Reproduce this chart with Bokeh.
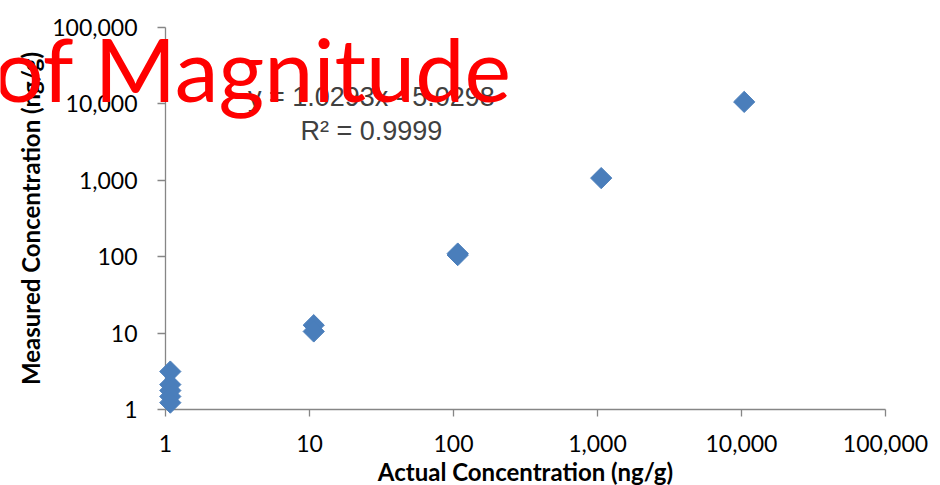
import numpy as np
from bokeh.plotting import figure
from bokeh.models import Range1d, FixedTicker, NumeralTickFormatter, Label
from bokeh.embed import file_html
from bokeh.resources import INLINE

# Data
actual = [1.08, 1.08, 1.08, 1.08, 1.08, 10.7, 10.7, 107, 107, 1061, 10440]
measured = [3.14, 2.12, 1.77, 1.48, 1.23, 12.7, 10.5, 110, 105, 1069, 10620]
ticks = [1, 10, 100, 1000, 10000, 100000]
x_label = "Actual Concentration (ng/g)"
y_label = "Measured Concentration (ng/g)"
eq_text = "y = 1.0293x - 5.0298"
r2_text = "R² = 0.9999"
title_text = "of Magnitude"

# Layout (pixels): the frame covers the whole canvas; the axes are pinned
# at value 1 so that the plot area spans x 165..885 and y 27..409.
W, H = 940, 485
X0_PX, X_DEC = 165, 144.0      # pixel of x=1, pixels per decade
Y0_PX, Y_DEC = 409, 76.4       # pixel (from top) of y=1, pixels per decade
x_range = Range1d(10 ** (-X0_PX / X_DEC), 10 ** ((W - X0_PX) / X_DEC))
y_range = Range1d(10 ** (-(H - Y0_PX) / Y_DEC), 10 ** (Y0_PX / Y_DEC))

p = figure(width=W, height=H, x_axis_type="log", y_axis_type="log",
           x_range=x_range, y_range=y_range,
           output_backend="svg", toolbar_location=None, min_border=0)
p.outline_line_color = None
p.xgrid.visible = False
p.ygrid.visible = False
p.background_fill_color = "white"
p.border_fill_color = "white"

for ax in (p.xaxis[0], p.yaxis[0]):
    ax.ticker = FixedTicker(ticks=ticks)
    ax.formatter = NumeralTickFormatter(format="0,0")
    ax.fixed_location = 1
    ax.bounds = (1, 100000)
    ax.axis_line_color = "#868686"
    ax.axis_line_width = 1.3
    ax.major_tick_line_color = "#868686"
    ax.major_tick_line_width = 1.3
    ax.major_tick_in = 0
    ax.minor_tick_line_color = None
    ax.major_label_text_color = "#000000"
    ax.major_label_text_font = "Lato"
    ax.major_label_text_font_size = "23px"
    ax.axis_label_text_color = "#000000"
    ax.axis_label_text_font = "Lato"
    ax.axis_label_text_font_style = "bold"
    ax.axis_label_text_font_size = "24px"

p.xaxis.major_tick_out = 7
p.xaxis.major_label_standoff = 18
p.xaxis.axis_label = x_label
p.xaxis.axis_label_standoff = 2

p.yaxis.major_tick_out = 8
p.yaxis.major_label_standoff = 20
p.yaxis.axis_label = y_label
p.yaxis.axis_label_standoff = 4

p.scatter(actual, measured, marker="square", angle=np.pi / 4, size=15,
          fill_color="#4A7EBB", line_color="#4A7EBB", line_width=1,
          level="annotation")

p.add_layout(Label(x=26.9, y=12420, text=eq_text, text_align="center",
                   text_baseline="alphabetic", text_font="Liberation Sans",
                   text_font_size="27px", text_color="#404040"))
p.add_layout(Label(x=26.9, y=4450, text=r2_text, text_align="center",
                   text_baseline="alphabetic", text_font="Liberation Sans",
                   text_font_size="27px", text_color="#404040"))
p.add_layout(Label(x=512, y=418, x_units="screen", y_units="screen",
                   text=title_text, text_align="right",
                   text_baseline="alphabetic", text_font="Lato",
                   text_font_size="88px", text_color="#FF0000"))

open("out.html", "w").write(file_html(p, INLINE))
